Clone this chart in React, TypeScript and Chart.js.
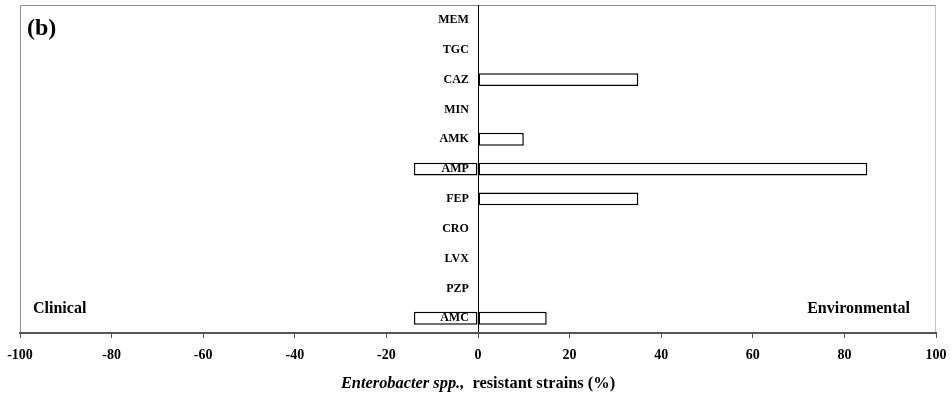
import React, { useEffect, useRef } from "react";
import { Chart, registerables } from "chart.js";

Chart.register(...registerables);

const categories = ["MEM", "TGC", "CAZ", "MIN", "AMK", "AMP", "FEP", "CRO", "LVX", "PZP", "AMC"];
const clinical = [0, 0, 0, 0, 0, -14, 0, 0, 0, 0, -14];
const environmental = [0, 0, 35, 0, 10, 85, 35, 0, 0, 0, 15];
const xTicks = [-100, -80, -60, -40, -20, 0, 20, 40, 60, 80, 100];
const panelLabel = "(b)";
const leftLabel = "Clinical";
const rightLabel = "Environmental";
const titleItalic = "Enterobacter spp.,";
const titleRest = "  resistant strains (%)";

const SERIF = "'Liberation Serif', 'Times New Roman', serif";

const annotPlugin = {
  id: "annot",
  beforeDatasetsDraw(chart: any) {
    const { ctx, chartArea: a } = chart;
    ctx.save();
    ctx.lineWidth = 1;
    ctx.strokeStyle = "#8e8e8e";
    ctx.beginPath();
    ctx.moveTo(a.left + 0.5, a.bottom);
    ctx.lineTo(a.left + 0.5, a.top + 0.5);
    ctx.lineTo(a.right, a.top + 0.5);
    ctx.stroke();
    ctx.strokeStyle = "#c4c4c4";
    ctx.beginPath();
    ctx.moveTo(a.right - 0.5, a.top + 0.5);
    ctx.lineTo(a.right - 0.5, a.bottom);
    ctx.stroke();
    ctx.restore();
  },
  afterDraw(chart: any) {
    const { ctx, chartArea: a } = chart;
    ctx.save();
    ctx.fillStyle = "#000";
    ctx.textBaseline = "alphabetic";
    ctx.font = `bold 24px ${SERIF}`;
    ctx.textAlign = "left";
    ctx.fillText(panelLabel, a.left + 7, a.top + 30);
    ctx.font = `bold 16px ${SERIF}`;
    ctx.fillText(leftLabel, a.left + 13, a.bottom - 20);
    ctx.textAlign = "right";
    ctx.fillText(rightLabel, a.right - 26, a.bottom - 20);
    const fi = `italic bold 16.4px ${SERIF}`;
    const fb = `bold 16.4px ${SERIF}`;
    ctx.font = fi;
    const w1 = ctx.measureText(titleItalic).width;
    ctx.font = fb;
    const w2 = ctx.measureText(titleRest).width;
    const cx = (a.left + a.right) / 2;
    const x0 = cx - (w1 + w2) / 2;
    const y = a.bottom + 55;
    ctx.textAlign = "left";
    ctx.font = fi;
    ctx.fillText(titleItalic, x0, y);
    ctx.font = fb;
    ctx.fillText(titleRest, x0 + w1, y);
    ctx.restore();
  },
};

export default function App() {
  const ref = useRef<HTMLCanvasElement | null>(null);
  useEffect(() => {
    if (!ref.current) return;
    const chart = new Chart(ref.current, {
      type: "bar",
      data: {
        labels: categories,
        datasets: [
          {
            label: "Clinical",
            data: clinical,
            backgroundColor: "#ffffff",
            borderColor: "#000000",
            borderWidth: 1.5,
            borderSkipped: false,
          },
          {
            label: "Environmental",
            data: environmental,
            backgroundColor: "#ffffff",
            borderColor: "#000000",
            borderWidth: 1.5,
            borderSkipped: false,
          },
        ],
      },
      options: {
        indexAxis: "y",
        animation: false,
        responsive: false,
        layout: { padding: { left: 20, right: 16, top: 5, bottom: 30 } },
        datasets: { bar: { categoryPercentage: 1, barPercentage: 0.43 } },
        plugins: {
          legend: { display: false },
          tooltip: { enabled: false },
          title: { display: false },
        },
        scales: {
          x: {
            type: "linear",
            stacked: true,
            min: -100,
            max: 100,
            afterBuildTicks: (s: any) => {
              s.ticks = xTicks.map((v) => ({ value: v }));
            },
            grid: {
              drawOnChartArea: true,
              drawTicks: true,
              tickLength: 14,
              tickBorderDash: [4, 40],
              color: (c: any) => (c.tick && c.tick.value === 0 ? "#000000" : "rgba(0,0,0,0)"),
              tickColor: "#555555",
              lineWidth: 1,
              z: 1,
            },
            border: { display: true, color: "#555555", width: 2, z: 1 },
            ticks: {
              color: "#000",
              padding: 0,
              font: { family: SERIF, size: 14, weight: "bold" },
              maxRotation: 0,
              autoSkip: false,
            },
          },
          y: {
            type: "category",
            stacked: true,
            position: { x: -2 } as any,
            grid: { display: false, drawTicks: false },
            border: { display: false },
            ticks: {
              z: 1,
              color: "#000",
              padding: 0,
              font: { family: SERIF, size: 12, weight: "bold", lineHeight: 0.8 },
              autoSkip: false,
            },
          },
        },
      },
      plugins: [annotPlugin],
    });
    return () => chart.destroy();
  }, []);
  return (
    <div style={{ position: "fixed", left: 0, top: 0, width: 952, height: 394, background: "#fff" }}>
      <canvas ref={ref} width={952} height={394} style={{ display: "block" }} />
    </div>
  );
}
